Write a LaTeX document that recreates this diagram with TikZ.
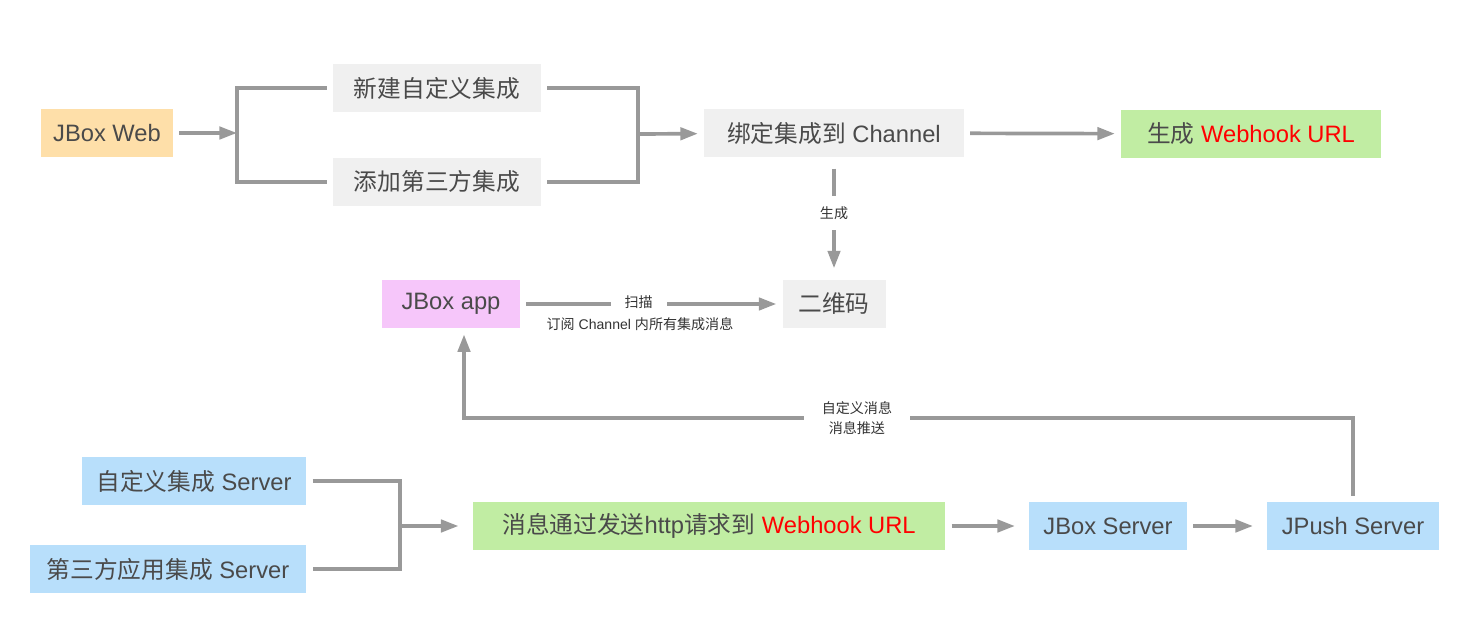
\documentclass[tikz,border=0pt]{standalone}
\usepackage{fontspec}
\usepackage{tikz}
\usetikzlibrary{arrows.meta}
\setmainfont{Liberation Sans}
\newfontfamily\zh{Noto Sans CJK SC}
\definecolor{linegray}{HTML}{999999}
\definecolor{textgray}{HTML}{4A4A4A}
\definecolor{labgray}{HTML}{333333}
\definecolor{boxgray}{HTML}{F0F0F0}
\definecolor{boxorange}{HTML}{FEDFA9}
\definecolor{boxpink}{HTML}{F6C6FA}
\definecolor{boxgreen}{HTML}{C1EDA3}
\definecolor{boxblue}{HTML}{B8DFFB}

\begin{document}
\begin{tikzpicture}[x=.02cm,y=-.02cm,
  box/.style={minimum height=.97cm,inner sep=0pt,outer sep=3.5pt,text=textgray,
    font=\fontsize{13.5}{16}\selectfont},
  line/.style={draw=linegray,line width=2.1pt},
  arr/.style={line,-{Triangle[length=10pt,width=7pt]}},
  lab/.style={fill=white,text=labgray,inner xsep=8pt,inner ysep=2pt,
    font=\fontsize{8}{11}\selectfont,align=center}]
  \useasboundingbox (0,0) rectangle (1469,641);
  % top row
  \node[box,fill=boxorange,minimum width=2.64cm] at (107,133) (web) {JBox Web};
  \node[box,fill=boxgray,minimum width=4.16cm] at (437,88) (newint) {\zh 新建自定义集成};
  \node[box,fill=boxgray,minimum width=4.16cm] at (437,182) (addint) {\zh 添加第三方集成};
  \node[box,fill=boxgray,minimum width=5.2cm] at (834,133) (bind) {{\zh 绑定集成到} Channel};
  \node[box,fill=boxgreen,minimum width=5.2cm] at (1251,134) (hook) {{\zh 生成} \textcolor{red}{Webhook URL}};
  % middle row
  \node[box,fill=boxpink,minimum width=2.76cm] at (451,304) (app) {JBox app};
  \node[box,fill=boxgray,minimum width=2.06cm] at (834,304) (qr) {\zh 二维码};
  % bottom row
  \node[box,fill=boxblue,minimum width=4.5cm] at (194,481) (cserver) {{\zh 自定义集成} Server};
  \node[box,fill=boxblue,minimum width=5.54cm] at (168,569) (tserver) {{\zh 第三方应用集成} Server};
  \node[box,fill=boxgreen,minimum width=9.46cm] at (709,526) (http) {{\zh 消息通过发送}http{\zh 请求到} \textcolor{red}{Webhook URL}};
  \node[box,fill=boxblue,minimum width=3.16cm] at (1108,526) (jbox) {JBox Server};
  \node[box,fill=boxblue,minimum width=3.44cm] at (1353,526) (jpush) {JPush Server};
  \coordinate (b1) at (237,133);
  \coordinate (b2) at (638,134);
  \coordinate (b3) at (400,526);
  \coordinate (c1) at (464,418);
  % brackets
  \draw[line] (newint.west) -| (b1) |- (addint.west);
  \draw[line] (newint.east) -| (b2) |- (addint.east);
  \draw[line] (cserver.east) -| (b3) |- (tserver.east);
  \foreach \x/\y in {web/b1,b2/bind,bind/hook} \draw[arr] (\x) -- (\y);
  \foreach \x/\y in {b3/http,http/jbox,jbox/jpush} \draw[arr,shorten >=4.5pt] (\x) -- (\y);
  \draw[arr,shorten <=3pt,shorten >=3pt] (bind) -- node[lab,inner xsep=2pt,inner ysep=6pt,yshift=3pt] (gen) {\zh 生成} (qr);
  \draw[arr] (app) -- node[lab,pos=.45,yshift=1pt] (scan) {\zh 扫描} (qr);
  \node[text=labgray,font=\fontsize{8}{11}\selectfont] at (640,324) (sub) {{\zh 订阅} Channel {\zh 内所有集成消息}};
  \draw[arr] (jpush.north) |- node[lab,pos=.779,inner xsep=10pt] (push) {\zh 自定义消息\\\zh 消息推送} (c1) -- (c1 |- app.south);
\end{tikzpicture}
\end{document}
